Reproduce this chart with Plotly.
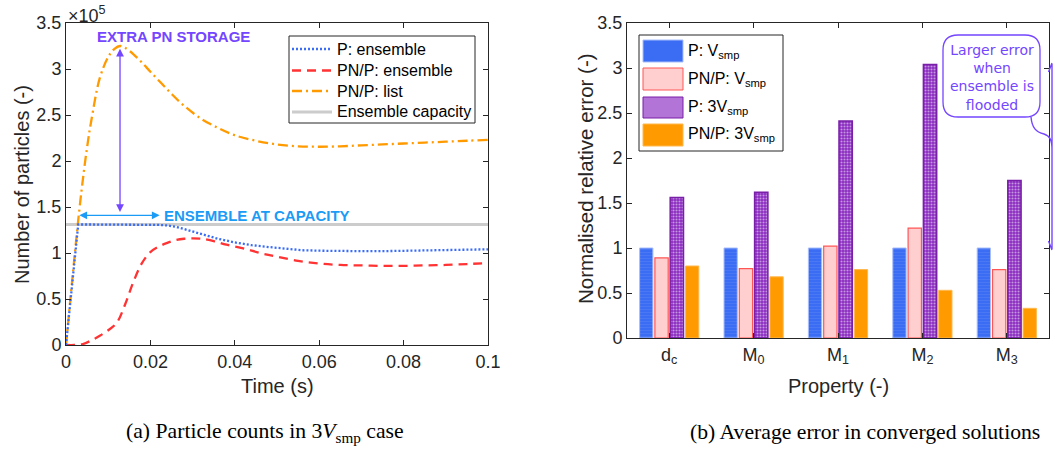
import plotly.graph_objects as go

# ---------------- panel (a): particle counts (units of 1e5) ----------------
t_list = [0, 0.001, 0.002, 0.003, 0.004, 0.005, 0.006, 0.008, 0.010, 0.0115,
          0.0128, 0.014, 0.016, 0.018, 0.020, 0.0225, 0.025, 0.028, 0.032,
          0.036, 0.040, 0.045, 0.050, 0.055, 0.060, 0.065, 0.070, 0.075,
          0.080, 0.085, 0.090, 0.095, 0.100]
n_list = [0, 0.48, 0.95, 1.40, 1.80, 2.15, 2.44, 2.90, 3.13, 3.22,
          3.25, 3.23, 3.16, 3.07, 2.97, 2.85, 2.73, 2.60, 2.46,
          2.36, 2.28, 2.22, 2.18, 2.16, 2.155, 2.16, 2.17, 2.18,
          2.19, 2.20, 2.21, 2.22, 2.23]

t_ens = [0, 0.001, 0.002, 0.0029, 0.005, 0.010, 0.015, 0.020, 0.022, 0.024,
         0.026, 0.028, 0.030, 0.033, 0.036, 0.040, 0.044, 0.048, 0.052,
         0.056, 0.060, 0.065, 0.070, 0.075, 0.080, 0.085, 0.090, 0.095, 0.100]
n_ens = [0, 0.48, 0.95, 1.31, 1.31, 1.31, 1.31, 1.31, 1.305, 1.30,
         1.285, 1.26, 1.235, 1.19, 1.155, 1.115, 1.085, 1.065, 1.045,
         1.03, 1.025, 1.02, 1.02, 1.02, 1.025, 1.03, 1.035, 1.04, 1.04]

t_pnp = [0, 0.002, 0.004, 0.006, 0.008, 0.010, 0.012, 0.014, 0.016, 0.018,
         0.020, 0.022, 0.024, 0.026, 0.028, 0.030, 0.032, 0.035, 0.038,
         0.042, 0.046, 0.050, 0.055, 0.060, 0.065, 0.070, 0.075, 0.080,
         0.085, 0.090, 0.095, 0.100]
n_pnp = [0, 0, 0.01, 0.05, 0.10, 0.16, 0.24, 0.44, 0.69, 0.89,
         1.01, 1.07, 1.11, 1.14, 1.155, 1.16, 1.155, 1.13, 1.09,
         1.05, 1.00, 0.96, 0.915, 0.885, 0.87, 0.865, 0.86, 0.86,
         0.865, 0.87, 0.88, 0.89]

capacity = 1.31
t_span = [0.0, 0.1]

time_ticks = [0, 0.02, 0.04, 0.06, 0.08, 0.1]
time_labels = ["0", "0.02", "0.04", "0.06", "0.08", "0.1"]
count_ticks = [0, 0.5, 1, 1.5, 2, 2.5, 3, 3.5]
count_labels = ["0", "0.5", "1", "1.5", "2", "2.5", "3", "3.5"]

# ---------------- panel (b): normalised relative error ----------------
prop_pos = [1, 2, 3, 4, 5]
prop_labels = ["d<sub>c</sub>", "M<sub>0</sub>", "M<sub>1</sub>",
               "M<sub>2</sub>", "M<sub>3</sub>"]
err_p_v = [1.0, 1.0, 1.0, 1.0, 1.0]
err_pnp_v = [0.89, 0.77, 1.02, 1.22, 0.76]
err_p_3v = [1.56, 1.62, 2.41, 3.04, 1.75]
err_pnp_3v = [0.80, 0.68, 0.76, 0.53, 0.33]
err_ticks = [0, 0.5, 1, 1.5, 2, 2.5, 3, 3.5]
err_labels = ["0", "0.5", "1", "1.5", "2", "2.5", "3", "3.5"]

W, H = 1055, 452
FONT = "Liberation Sans, Arial, sans-serif"
SERIF = "Liberation Serif, Times New Roman, serif"
INK = "#262626"


def px(x):
    return x / W


def py(y):
    return 1 - y / H


BLUE = "#3a6cf4"
RED = "#ff3333"
ORANGE = "#ff9a00"
GREY = "#cccccc"
PINK_FILL = "#ffcfcf"
PINK_EDGE = "#ff5555"
PURPLE = "#8a2bc0"
VIOLET = "#7446ff"
CYAN = "#1a9bf5"

DASH_ENS = "2px,2px"
DASH_PNP = "9px,6px"
DASH_LIST = "10px,4px,2px,4px"

fig = go.Figure()

# panel (a) lines
fig.add_trace(go.Scatter(x=t_span, y=[capacity, capacity], mode="lines",
                         name="Ensemble capacity",
                         line=dict(color=GREY, width=3), xaxis="x", yaxis="y"))
fig.add_trace(go.Scatter(x=t_list, y=n_list, mode="lines", name="PN/P: list",
                         line_shape="spline",
                         line=dict(color=ORANGE, width=2.3, dash=DASH_LIST),
                         xaxis="x", yaxis="y"))
fig.add_trace(go.Scatter(x=t_pnp, y=n_pnp, mode="lines", name="PN/P: ensemble",
                         line_shape="spline",
                         line=dict(color=RED, width=2.3, dash=DASH_PNP),
                         xaxis="x", yaxis="y"))
fig.add_trace(go.Scatter(x=t_ens, y=n_ens, mode="lines", name="P: ensemble",
                         line=dict(color=BLUE, width=2.3, dash=DASH_ENS),
                         xaxis="x", yaxis="y"))

# panel (b) bars
fig.add_trace(go.Bar(x=prop_pos, y=err_p_v, name="P: V<sub>smp</sub>",
                     marker=dict(color=BLUE, line=dict(color="#a9bdfb", width=1),
                                 pattern=dict(shape="-", fgcolor="#5d88f7",
                                              bgcolor=BLUE, size=3, solidity=0.3)),
                     xaxis="x2", yaxis="y2"))
fig.add_trace(go.Bar(x=prop_pos, y=err_pnp_v, name="PN/P: V<sub>smp</sub>",
                     marker=dict(color=PINK_FILL, line=dict(color=PINK_EDGE, width=1.2)),
                     xaxis="x2", yaxis="y2"))
fig.add_trace(go.Bar(x=prop_pos, y=err_p_3v, name="P: 3V<sub>smp</sub>",
                     marker=dict(color=PURPLE, line=dict(color="#7a1fa8", width=1.5),
                                 pattern=dict(shape=".", fgcolor="white",
                                              bgcolor=PURPLE, size=3, solidity=0.4)),
                     xaxis="x2", yaxis="y2"))
fig.add_trace(go.Bar(x=prop_pos, y=err_pnp_3v, name="PN/P: 3V<sub>smp</sub>",
                     marker=dict(color=ORANGE, line=dict(color="#ffb84d", width=1)),
                     xaxis="x2", yaxis="y2"))

axis_common = dict(showline=True, linecolor=INK, linewidth=1, mirror="ticks",
                   ticks="inside", ticklen=5, tickcolor=INK, showgrid=False,
                   zeroline=False, automargin=False,
                   tickfont=dict(family=FONT, size=18, color=INK))

fig.update_layout(
    width=W, height=H, autosize=False,
    margin=dict(l=0, r=0, t=0, b=0, pad=0, autoexpand=False),
    paper_bgcolor="white", plot_bgcolor="white",
    font=dict(family=FONT, color=INK),
    showlegend=False,
    barmode="group", bargap=0.275, bargroupgap=0.13,
    xaxis=dict(domain=[px(66), px(488)], range=[0, 0.1], anchor="y",
               tickvals=time_ticks, ticktext=time_labels, **axis_common),
    yaxis=dict(domain=[py(345), py(23)], range=[0, 3.5], anchor="x",
               tickvals=count_ticks, ticktext=count_labels, **axis_common),
    xaxis2=dict(domain=[px(627), px(1049)], range=[0.5, 5.5], anchor="y2",
                tickvals=prop_pos, ticktext=prop_labels, **axis_common),
    yaxis2=dict(domain=[py(338), py(23)], range=[0, 3.5], anchor="x2",
                tickvals=err_ticks, ticktext=err_labels, **axis_common),
)

annotations = []
shapes = []


def paper_text(x, y, text, size=17, color=INK, family=FONT, xanchor="center",
               angle=0):
    annotations.append(dict(xref="paper", yref="paper", x=px(x), y=py(y),
                            xanchor=xanchor, yanchor="middle", showarrow=False,
                            textangle=angle, text=text,
                            font=dict(family=family, size=size, color=color)))


# ----- panel (a) decorations -----
paper_text(66, 14, "×10<sup>5</sup>", size=18, xanchor="left")
annotations.append(dict(xref="x", yref="y", x=0.0128, y=3.22, ax=0.0128, ay=1.43,
                        axref="x", ayref="y", text="", showarrow=True,
                        arrowside="end+start", arrowhead=2, arrowsize=1.2,
                        arrowwidth=1.3, arrowcolor=VIOLET))
annotations.append(dict(xref="x", yref="y", x=0.0222, y=1.41, ax=0.0028, ay=1.41,
                        axref="x", ayref="y", text="", showarrow=True,
                        arrowside="end+start", arrowhead=2, arrowsize=1.2,
                        arrowwidth=1.3, arrowcolor=CYAN))
annotations.append(dict(xref="x", yref="y", x=0.0255, y=3.35, showarrow=False,
                        xanchor="center", yanchor="middle",
                        text="<b>EXTRA PN STORAGE</b>",
                        font=dict(family=FONT, size=15, color=VIOLET)))
annotations.append(dict(xref="x", yref="y", x=0.0228, y=1.41, showarrow=False,
                        xanchor="left", yanchor="middle",
                        text="<b>ENSEMBLE AT CAPACITY</b>",
                        font=dict(family=FONT, size=15, color=CYAN)))

# panel (a) legend
shapes.append(dict(type="rect", xref="paper", yref="paper",
                   x0=px(289), x1=px(475), y0=py(123), y1=py(36),
                   line=dict(color=INK, width=1), fillcolor="white", layer="above"))
line_rows = [
    ("P: ensemble", BLUE, DASH_ENS, 2.3, 49),
    ("PN/P: ensemble", RED, DASH_PNP, 2.3, 70.5),
    ("PN/P: list", ORANGE, DASH_LIST, 2.3, 91),
    ("Ensemble capacity", GREY, "solid", 3, 112),
]
for label, color, dash, width, yc in line_rows:
    shapes.append(dict(type="line", xref="paper", yref="paper",
                       x0=px(292), x1=px(332), y0=py(yc), y1=py(yc),
                       line=dict(color=color, width=width, dash=dash), layer="above"))
    paper_text(335, yc, label, size=16, color="black", xanchor="left")

# axis titles
paper_text(277, 386, "Time (s)", size=20)
paper_text(838, 386, "Property (-)", size=20)
paper_text(22, 185, "Number of particles (-)", size=20, angle=-90)
paper_text(585, 179, "Normalised relative error (-)", size=20.5, angle=-90)

# captions
paper_text(265, 432, "(a) Particle counts in 3<i>V</i><sub>smp</sub> case",
           size=21.7, color="black", family=SERIF)
paper_text(865, 432, "(b) Average error in converged solutions",
           size=21.7, color="black", family=SERIF)

# ----- panel (b) legend, drawn as boxes and labels -----
shapes.append(dict(type="rect", xref="paper", yref="paper",
                   x0=px(639), x1=px(783), y0=py(151), y1=py(35),
                   line=dict(color=INK, width=1), fillcolor="white", layer="above"))
bar_rows = [
    ("P: V<sub>smp</sub>", BLUE, "#a9bdfb", 40, 62),
    ("PN/P: V<sub>smp</sub>", PINK_FILL, PINK_EDGE, 68, 90),
    ("P: 3V<sub>smp</sub>", "#b274d6", "#7a1fa8", 97, 118),
    ("PN/P: 3V<sub>smp</sub>", ORANGE, "#ffb84d", 124, 146),
]
for label, fill, edge, y0, y1 in bar_rows:
    shapes.append(dict(type="rect", xref="paper", yref="paper",
                       x0=px(643), x1=px(683), y0=py(y1), y1=py(y0),
                       line=dict(color=edge, width=1), fillcolor=fill, layer="above"))
    paper_text(686, (y0 + y1) / 2, label, size=16, color="black", xanchor="left")


# ----- panel (b) call-out bubble and brace -----
def path_from(cmds):
    out = []
    for cmd, pts in cmds:
        coords = " ".join(f"{px(x):.5f},{py(y):.5f}" for x, y in pts)
        out.append(f"{cmd} {coords}" if coords else cmd)
    return " ".join(out)


bx0, bx1, by0, by1, r = 943, 1040, 35, 117, 15
bubble = path_from([
    ("M", [(bx0 + r, by0)]), ("L", [(bx1 - r, by0)]),
    ("Q", [(bx1, by0), (bx1, by0 + r)]), ("L", [(bx1, by1 - r)]),
    ("Q", [(bx1, by1), (bx1 - r, by1)]), ("L", [(bx0 + r, by1)]),
    ("Q", [(bx0, by1), (bx0, by1 - r)]), ("L", [(bx0, by0 + r)]),
    ("Q", [(bx0, by0), (bx0 + r, by0)]), ("Z", []),
])
shapes.append(dict(type="path", xref="paper", yref="paper", path=bubble,
                   line=dict(color=VIOLET, width=1.3), fillcolor="white", layer="above"))
brace = path_from([
    ("M", [(1031, 117)]), ("C", [(1032, 128), (1036, 132), (1044, 134)]),
    ("C", [(1050, 136), (1052, 140), (1052, 150)]), ("L", [(1052, 249)]),
    ("M", [(1052, 150)]), ("L", [(1052, 64)]),
    ("M", [(1048.5, 72)]), ("L", [(1052, 63), (1055.5, 72)]),
    ("M", [(1048.5, 241)]), ("L", [(1052, 250), (1055.5, 241)]),
])
shapes.append(dict(type="path", xref="paper", yref="paper", path=brace,
                   line=dict(color=VIOLET, width=1.4), layer="above"))
paper_text((bx0 + bx1) / 2, 77, "Larger error<br>when<br>ensemble is<br>flooded",
           size=14, color=VIOLET, family="DejaVu Sans, Verdana, sans-serif")

fig.update_layout(annotations=annotations, shapes=shapes)

fig.write_html("out.html")
